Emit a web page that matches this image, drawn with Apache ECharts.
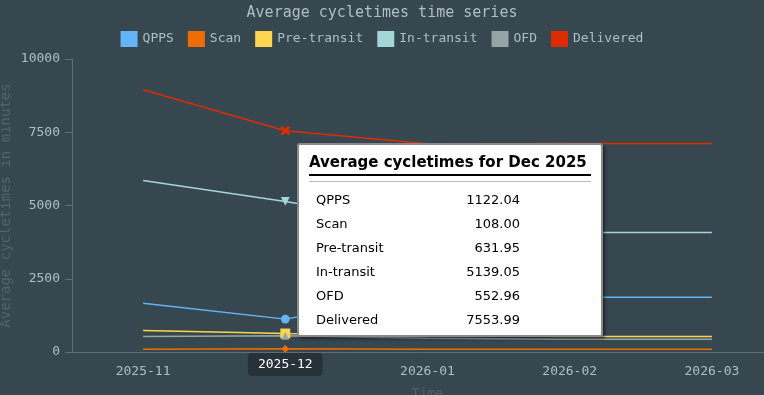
<!DOCTYPE html>
<html>
<head>
<meta charset="utf-8">
<script src="https://cdn.jsdelivr.net/npm/echarts@6/dist/echarts.min.js"></script>
<style>
html,body{margin:0;padding:0;background:#37474f;}
#chart{width:764px;height:395px;}
</style>
</head>
<body>
<div id="chart"></div>
<script>
const months = ['2025-11', '2025-12', '2026-01', '2026-02', '2026-03'];
const seriesNames = ['QPPS', 'Scan', 'Pre-transit', 'In-transit', 'OFD', 'Delivered'];
const qpps = [1665, 1122.04, 2000, 1870, 1870];
const scan = [95, 108.00, 95, 92, 92];
const preTransit = [730, 631.95, 560, 525, 525];
const inTransit = [5850, 5139.05, 4350, 4075, 4075];
const ofd = [525, 552.96, 470, 435, 435];
const delivered = [8950, 7553.99, 7110, 7120, 7120];
const yTicks = [0, 2500, 5000, 7500, 10000];
const hoverIndex = 1;
const hoverTitle = 'Average cycletimes for Dec 2025';

const colors = ['#64b5f6', '#ef6c00', '#ffd54f', '#a5d6d7', '#95a5a6', '#dd2c00'];
const symbols = ['circle', 'diamond', 'rect', 'path://M0,0 L10,0 L5,9 Z', 'triangle',
  'path://M0,2 L2,0 L5,3 L8,0 L10,2 L7,5 L10,8 L8,10 L5,7 L2,10 L0,8 L3,5 Z'];
const symbolSizes = [8, 7, 9, 8, 7, 9];
const allData = [qpps, scan, preTransit, inTransit, ofd, delivered];

const chart = echarts.init(document.getElementById('chart'));
const mono = "'DejaVu Sans Mono', monospace";

function fmt(params) {
  let rows = '';
  const byName = {};
  params.forEach(p => { byName[p.seriesName] = p.value; });
  seriesNames.forEach(n => {
    const v = byName[n];
    rows += '<tr><td style="padding:0;height:24px;">' + n + '</td><td style="padding:0;text-align:right;">' +
      (typeof v === 'number' ? v.toFixed(2) : v) + '</td></tr>';
  });
  return '<div style="font-family:\'DejaVu Sans\',Verdana,sans-serif;color:#000;width:282px;">' +
    '<div style="font-weight:bold;font-size:15px;line-height:19px;border-bottom:2px solid #000;padding-bottom:2px;white-space:nowrap;">' + hoverTitle + '</div>' +
    '<div style="border-top:1px solid #bbb;margin-top:5px;"></div>' +
    '<table style="border-collapse:collapse;font-size:13px;margin:5px 0 0 7px;width:204px;">' + rows + '</table></div>';
}

const series = seriesNames.map((name, i) => ({
  name: name,
  type: 'line',
  symbol: 'none',
  showSymbol: true,
  animation: false,
  lineStyle: { width: 1.5, color: colors[i] },
  itemStyle: { color: colors[i] },
  emphasis: { disabled: true },
  data: allData[i].map((v, j) => j === hoverIndex ?
    { value: v, symbol: symbols[i], symbolSize: symbolSizes[i] } : v)
}));

chart.setOption({
  backgroundColor: '#37474f',
  color: colors,
  animation: false,
  title: {
    text: 'Average cycletimes time series',
    left: 'center',
    top: 1,
    textStyle: { fontFamily: mono, fontSize: 15, fontWeight: 'normal', color: '#b0bec5' }
  },
  legend: {
    top: 30,
    left: 'center',
    icon: 'rect',
    itemWidth: 17,
    itemHeight: 16,
    itemGap: 14,
    padding: [1, 5],
    data: seriesNames,
    textStyle: { fontFamily: mono, fontSize: 13, color: '#b0bec5' }
  },
  grid: { left: 72, right: -19, top: 59, bottom: 43, containLabel: false, outerBoundsMode: 'none' },
  tooltip: {
    trigger: 'axis',
    alwaysShowContent: true,
    transitionDuration: 0,
    showDelay: 0,
    position: [297, 143],
    backgroundColor: '#fff',
    borderColor: '#8a8a8a',
    borderWidth: 2,
    padding: [8, 10, 4, 10],
    extraCssText: 'box-shadow:2px 2px 3px rgba(0,0,0,0.45);border-radius:3px;',
    axisPointer: { type: 'line', lineStyle: { opacity: 0 } },
    formatter: fmt
  },
  xAxis: {
    type: 'category',
    data: months,
    boundaryGap: true,
    name: 'Time',
    nameLocation: 'middle',
    nameGap: 35,
    nameMoveOverlap: false,
    nameTextStyle: { fontFamily: mono, fontSize: 13, color: '#52636b' },
    axisLine: { lineStyle: { color: '#5b6d76' } },
    axisTick: { length: 7, lineStyle: { color: '#5b6d76' } },
    axisLabel: { fontFamily: mono, fontSize: 13, color: '#b0bec5', margin: 13 },
    axisPointer: {
      show: true,
      type: 'line',
      lineStyle: { opacity: 0 },
      label: {
        show: true,
        margin: 1,
        backgroundColor: '#263238',
        color: '#fff',
        fontFamily: mono,
        fontSize: 13,
        padding: [5, 10, 5, 10],
        borderRadius: 4
      }
    }
  },
  yAxis: {
    type: 'value',
    min: yTicks[0],
    max: yTicks[yTicks.length - 1],
    interval: yTicks[1] - yTicks[0],
    name: 'Average cycletimes in minutes',
    nameLocation: 'middle',
    nameGap: 59,
    nameMoveOverlap: false,
    nameTextStyle: { fontFamily: mono, fontSize: 14, color: '#52636b' },
    axisLine: { show: true, lineStyle: { color: '#5b6d76' } },
    axisTick: { show: true, length: 7, lineStyle: { color: '#5b6d76' } },
    splitLine: { show: false },
    axisLabel: { fontFamily: mono, fontSize: 13, color: '#b0bec5', margin: 12, formatter: v => String(v) }
  },
  series: series
});

chart.dispatchAction({ type: 'showTip', seriesIndex: 0, dataIndex: hoverIndex });
</script>
</body>
</html>
